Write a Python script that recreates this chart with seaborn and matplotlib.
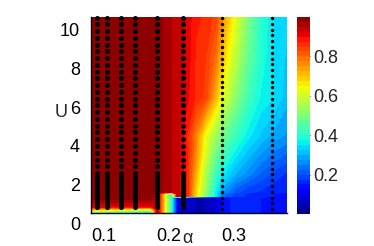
import numpy as np
import pandas as pd
import matplotlib
matplotlib.use("Agg")
import matplotlib.pyplot as plt
import seaborn as sns
from matplotlib.transforms import ScaledTranslation

# grid of the colour field
alpha_grid = [0.10, 0.19, 0.20, 0.205, 0.212, 0.222, 0.231, 0.245, 0.26,
              0.275, 0.29, 0.30, 0.32, 0.34, 0.36, 0.38, 0.40]
u_grid = [0.0, 0.2, 0.32, 0.8, 0.88, 1.0, 1.08, 1.5, 2.0, 3.0, 4.0, 6.0, 8.0, 10.15]

low_block = [0.93, 0.85, 0.65, 0.40, 0.10, 0.06, 0.05, 0.05, 0.06, 0.13, 0.16, 0.16, 0.15, 0.15, 0.14]
step_row = [0.99, 0.99, 0.93, 0.85, 0.65, 0.40, 0.94, 0.89, 0.68, 0.52, 0.36, 0.24, 0.19, 0.17, 0.16, 0.15, 0.14]
field = [
    [0.45, 0.30] + low_block,
    [0.75, 0.62] + low_block,
    [0.92, 0.90] + low_block,
    [0.99, 0.99] + low_block,
    step_row,
    step_row,
    [0.99, 0.99, 0.99, 0.98, 0.97, 0.95, 0.94, 0.89, 0.68, 0.52, 0.36, 0.28, 0.21, 0.18, 0.17, 0.16, 0.15],
    [0.99, 0.99, 0.99, 0.98, 0.97, 0.95, 0.94, 0.89, 0.70, 0.54, 0.39, 0.32, 0.25, 0.21, 0.19, 0.17, 0.16],
    [0.99, 0.99, 0.99, 0.98, 0.97, 0.95, 0.94, 0.88, 0.72, 0.55, 0.42, 0.36, 0.30, 0.26, 0.22, 0.19, 0.17],
    [0.99, 0.99, 0.99, 0.98, 0.97, 0.95, 0.94, 0.89, 0.76, 0.60, 0.48, 0.43, 0.36, 0.31, 0.27, 0.24, 0.22],
    [0.99, 0.99, 0.99, 0.98, 0.97, 0.95, 0.94, 0.88, 0.77, 0.63, 0.54, 0.49, 0.42, 0.36, 0.32, 0.29, 0.27],
    [0.99, 0.99, 0.99, 0.98, 0.97, 0.95, 0.94, 0.91, 0.87, 0.84, 0.72, 0.63, 0.52, 0.43, 0.37, 0.35, 0.31],
    [0.99, 0.99, 0.99, 0.98, 0.97, 0.95, 0.94, 0.92, 0.87, 0.85, 0.79, 0.70, 0.58, 0.47, 0.39, 0.35, 0.32],
    [0.99, 0.99, 0.99, 0.98, 0.97, 0.95, 0.94, 0.92, 0.88, 0.87, 0.84, 0.76, 0.63, 0.50, 0.40, 0.35, 0.33],
]

# sample points (black dots)
dot_alpha_left = [0.108, 0.1235, 0.1446, 0.166, 0.1995, 0.2405]
dot_alpha_right = [0.300, 0.3765]
u_sparse = [10.12, 9.77, 9.42, 9.07, 8.72, 8.37, 8.02, 7.67, 7.32, 6.97, 6.62, 6.27,
            5.92, 5.57, 5.22, 4.87, 4.52, 4.17, 3.82, 3.47, 3.12, 2.77, 2.42, 2.07]
u_dense = [1.92, 1.77, 1.62, 1.47, 1.32, 1.17, 1.02, 0.87, 0.72, 0.57, 0.42, 0.3]
u_right = [10.1, 9.8, 9.5, 9.2, 8.9, 8.6, 8.3, 8.0, 7.7, 7.4, 7.1, 6.8, 6.5, 6.2,
           5.9, 5.6, 5.3, 5.0, 4.7, 4.4, 4.1, 3.8, 3.5, 3.2, 2.9, 2.6, 2.3, 2.0,
           1.7, 1.4, 1.1, 0.8, 0.5, 0.2]

x_ticks = [0.1, 0.2, 0.3]
x_tick_labels = ["0.1", "0.2", "0.3"]
y_ticks = [0, 2, 4, 6, 8, 10]
cbar_ticks = [0.2, 0.4, 0.6, 0.8]

sns.set_style("white")
plt.rcParams["font.family"] = ["Liberation Sans", "DejaVu Sans"]
fs = 13

fig = plt.figure(figsize=(3.74, 2.46), dpi=100)
ax = fig.add_axes([91 / 374, 33 / 246, 196 / 374, 196 / 246])
cax = fig.add_axes([297 / 374, 32 / 246, 13 / 374, 197 / 246])

cs = ax.contourf(alpha_grid, u_grid, np.array(field), levels=np.linspace(0, 1, 41),
                 cmap="jet", vmin=0, vmax=1)

left = pd.DataFrame([(a, u) for a in dot_alpha_left for u in u_sparse + u_dense],
                    columns=["alpha", "U"])
right = pd.DataFrame([(a, u) for a in dot_alpha_right for u in u_right],
                     columns=["alpha", "U"])
sns.scatterplot(data=left, x="alpha", y="U", color="black", s=13, linewidth=0,
                ax=ax, zorder=3, clip_on=False)
sns.scatterplot(data=right, x="alpha", y="U", color="black", s=6, linewidth=0,
                ax=ax, zorder=3, clip_on=False)

ax.set_xlim(0.0985, 0.4)
ax.set_ylim(0, 10.15)
for side in ["top", "right"]:
    ax.spines[side].set_visible(False)
for side in ["left", "bottom"]:
    ax.spines[side].set_color("black")
    ax.spines[side].set_linewidth(1)
ax.set_xticks(x_ticks)
ax.set_xticklabels(x_tick_labels)
ax.set_yticks(y_ticks)
ax.tick_params(direction="out", length=3, width=1, color="black",
               labelcolor="black", labelsize=fs)
ax.tick_params(axis="x", pad=8)
ax.tick_params(axis="y", pad=5)

# shift the tick labels the way they sit in the picture
for lab in ax.get_xticklabels():
    lab.set_transform(lab.get_transform() + ScaledTranslation(12 / 100, 0, fig.dpi_scale_trans))
for lab in ax.get_yticklabels():
    lab.set_transform(lab.get_transform() + ScaledTranslation(0, -10 / 100, fig.dpi_scale_trans))

ax.set_xlabel("α", fontsize=fs)
ax.xaxis.label.set_va("center")
ax.xaxis.set_label_coords(0.49, -0.13)
ax.set_ylabel("U", rotation=0, fontsize=fs)
ax.yaxis.label.set_va("center")
ax.yaxis.set_label_coords(-0.15, 0.515)

cbar = fig.colorbar(cs, cax=cax, ticks=cbar_ticks)
cbar.outline.set_visible(False)
cax.tick_params(direction="in", length=3, width=0.8, pad=2, labelsize=fs)

fig.savefig("out.png", dpi=100)
